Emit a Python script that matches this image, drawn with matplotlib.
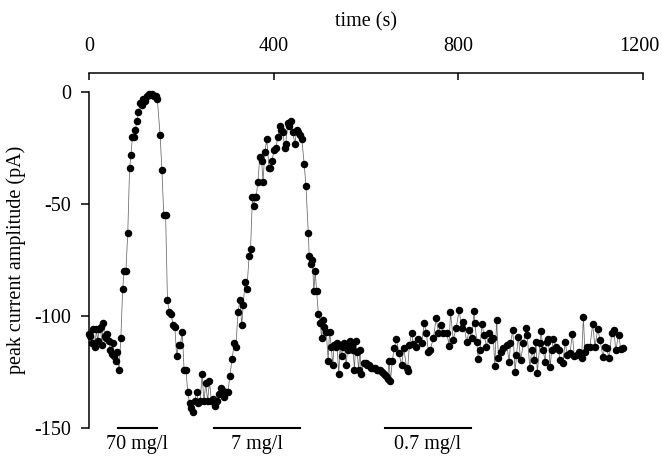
import matplotlib
matplotlib.use('Agg')
import matplotlib.pyplot as plt
import matplotlib.transforms as mtransforms

# time (s) and peak current (pA)
time_s = [0, 3, 6, 9, 13, 16, 19, 22, 25, 28, 31, 34, 37, 40, 43, 46, 49, 52, 55, 58, 61, 65, 69,
          73, 76, 80, 84, 88, 91, 94, 97, 100, 104, 107, 111, 114, 118, 121, 125, 129, 133, 137, 141, 145, 148,
          154, 158, 162, 166, 170, 174, 178, 182, 186, 190, 194, 198, 202, 206, 210, 214,
          218, 222, 225, 229, 233, 237, 241, 245, 249, 253, 257, 261, 265, 269, 273, 277, 281, 285, 289, 293, 297, 301, 305,
          310, 315, 318, 323, 327, 331, 334, 338, 342, 347, 350, 354, 357, 360, 362, 366,
          370, 374, 377, 381, 385, 390, 393, 396, 401, 405, 409, 414, 417, 420, 424, 426, 431, 434, 437, 441, 446, 450, 453, 457, 461,
          466, 470, 475, 477, 481, 484, 487, 490, 493, 497, 501, 504, 507, 510, 514, 518, 521,
          525, 528, 531, 534, 537, 541, 544, 547, 550, 553, 557, 560, 563, 566, 569, 572, 575, 578, 581, 584, 587, 590,
          595, 599, 603, 607, 611, 615, 619, 623, 627, 631, 635, 639, 643, 647, 650, 653, 657,
          661, 666, 671, 677, 682, 688, 690, 694, 699, 702, 708, 713, 721, 726, 731, 735, 739, 746, 752, 757,
          762, 767, 775, 780, 783, 789, 795, 802, 807, 811, 818, 824, 829, 834, 836, 840, 843, 847, 851, 856,
          861, 866, 871, 876, 879, 883, 887, 892, 897, 905, 910, 913, 918, 923, 926, 930, 935, 941, 947, 949,
          955, 959, 964, 968, 971, 977, 979, 984, 988, 991, 995, 999, 1002, 1006, 1012, 1017, 1020, 1027, 1031, 1036,
          1042, 1047, 1051, 1056, 1062, 1067, 1071, 1074, 1078, 1085, 1091, 1096, 1102, 1107, 1113, 1118, 1121, 1127,
          1132, 1137, 1141, 1147, 1152, 1156]

current_pA = [-108, -109, -112, -106, -114, -106, -111, -106, -105, -113, -103, -109, -110, -108, -111, -115, -117, -112, -118, -120, -116, -124, -110,
              -88, -80, -80, -63, -34, -28, -20, -20, -17, -13, -9, -5, -6, -3, -4, -2, -1, -1.5, -1, -2, -2, -3,
              -19, -35, -55, -55, -93, -98, -99, -104, -105, -118, -113, -113, -107, -124, -124, -134,
              -139, -141, -143, -138, -134, -139, -138, -126, -138, -130, -138, -129, -138, -137, -140, -138, -135, -132, -133, -136, -134, -134, -127,
              -119, -112, -114, -98, -93, -104, -95, -85, -88, -73, -70, -47, -51, -47, -47, -40,
              -29, -31, -40, -27, -21, -34, -34, -31, -26, -25, -20, -15, -17, -18, -25, -23, -14, -15, -13, -18, -23, -17, -18, -19, -21,
              -32, -42, -63, -73, -77, -75, -89, -80, -89, -99, -103, -110, -102, -105, -107, -120, -107,
              -114, -122, -113, -114, -112, -126, -113, -118, -114, -112, -122, -115, -114, -111, -113, -115, -124, -111, -116, -124, -115, -126,
              -121, -121, -122, -122, -123, -123, -123, -124, -124, -124, -125, -126, -127, -128, -120, -129, -120,
              -114.4, -110.4, -116.3, -121.8, -114.4, -123.3, -124.4, -112.9, -107.4, -112.6, -113.7, -110.4, -111.9, -103.2, -107.7, -115.9, -115.1, -109.9, -101, -107.4,
              -104, -107.7, -107.4, -113.2, -98.3, -110.7, -105.5, -97.3, -105.5, -102.5, -111.4, -106.2, -109.9, -97.7, -103.2, -111.4, -119.2, -115.1, -103.7, -108.5,
              -113.7, -107.4, -110.7, -109.9, -122.3, -101.8, -118.9, -115.9, -114.4, -112.9, -120.4, -112.2, -106.2, -124.8, -117.4, -109.2, -119.6, -112.2, -105.2, -108.5,
              -123.3, -115.1, -119.6, -111.4, -125.3, -112.2, -106.5, -115.4, -120.4, -111.4, -110.4, -122.9, -115.1, -110.4, -113.7, -115.1, -119.6, -121.1, -111.4, -117.4,
              -116.3, -108, -117.8, -117.4, -115.9, -118.6, -100.3, -115.9, -113.7, -113.7, -103.7, -113.7, -105.8, -110.7, -118.1, -113.7, -114.4, -118.9,
              -107.7, -106.2, -115.4, -108.5, -114.8, -114.4]

# application periods (start, end in s) and labels
bar_start = [63, 271, 641]
bar_end = [147, 457, 827]
bar_labels = ['70 mg/l', '7 mg/l', '0.7 mg/l']

plt.rcParams['font.family'] = ['Liberation Serif', 'DejaVu Serif']
plt.rcParams['font.size'] = 14.5
plt.rcParams['axes.unicode_minus'] = False

fig = plt.figure(figsize=(6.62, 4.62), dpi=100)
ax = fig.add_axes([0.1344, 0.0736, 0.8369, 0.7273])

ax.plot(time_s, current_pA, color='0.4', lw=0.55, marker='o', ms=4.4,
        mfc='black', mec='black', clip_on=False)

ax.set_xlim(0, 1200)
ax.set_ylim(-150, 0)

# x axis on top, pushed up away from the data
ax.spines['right'].set_visible(False)
ax.spines['bottom'].set_visible(False)
ax.spines['top'].set_position(('outward', 13.7))
ax.spines['top'].set_linewidth(1.1)
ax.spines['left'].set_linewidth(1.1)
ax.xaxis.set_ticks_position('top')
ax.xaxis.set_label_position('top')
ax.set_xticks([0, 400, 800, 1200])
ax.tick_params(axis='x', direction='in', length=5, width=1.1, pad=12)
ax.set_yticks([0, -50, -100, -150])
ax.tick_params(axis='y', direction='out', length=6, width=1.1, pad=7)

# last label sits a little left of its tick so it stays inside the figure
last = ax.get_xticklabels()[-1]
last.set_transform(last.get_transform() + mtransforms.ScaledTranslation(-4 / 100, 0, fig.dpi_scale_trans))

ax.set_xlabel('time (s)', labelpad=8)
ax.set_ylabel('peak current amplitude (pA)', labelpad=6)

for s, e, lab in zip(bar_start, bar_end, bar_labels):
    ax.plot([s, e], [-150, -150], color='black', lw=1.5, clip_on=False)
    ax.annotate(lab, xy=((s + e) / 2, -150), xytext=(0, -12),
                textcoords='offset points', ha='center', va='center')

fig.savefig('out.png', dpi=100)
